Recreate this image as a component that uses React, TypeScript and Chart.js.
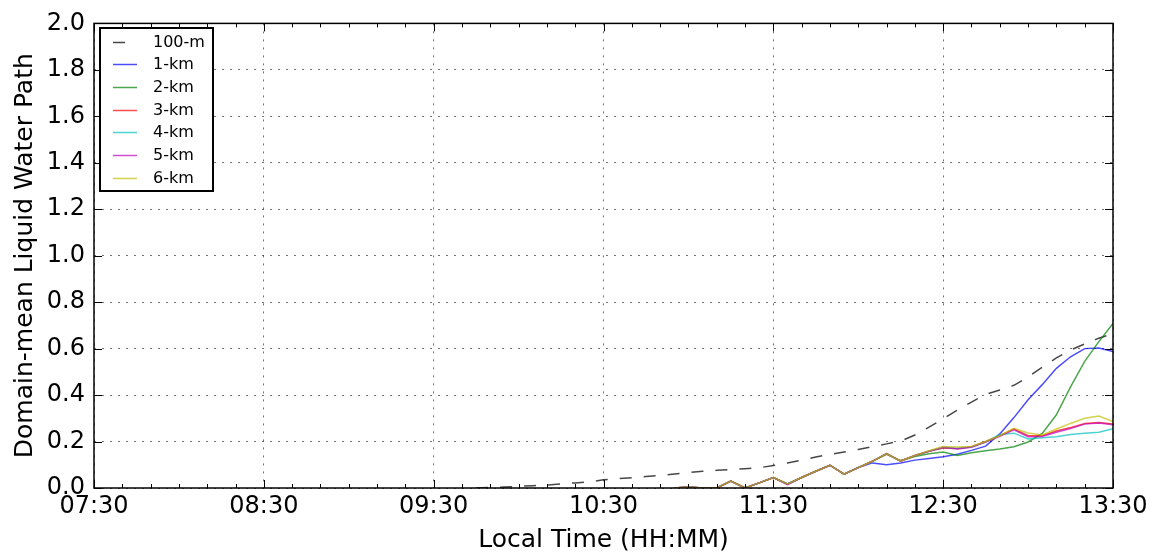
import React, { useEffect, useRef } from 'react';
import { Chart, registerables } from 'chart.js';
Chart.register(...registerables);

// Time axis (HH:MM) labels
const xTickLabels = ['07:30', '08:30', '09:30', '10:30', '11:30', '12:30', '13:30'];

// 5-minute sample times
const times = [
  '09:45', '09:50', '09:55', '10:00', '10:05', '10:10', '10:15', '10:20', '10:25', '10:30',
  '10:35', '10:40', '10:45', '10:50', '10:55', '11:00', '11:05', '11:10', '11:15', '11:20',
  '11:25', '11:30', '11:35', '11:40', '11:45', '11:50', '11:55', '12:00', '12:05', '12:10',
  '12:15', '12:20', '12:25', '12:30', '12:35', '12:40', '12:45', '12:50', '12:55', '13:00',
  '13:05', '13:10', '13:15', '13:20', '13:25', '13:30',
];

const lwp100m = [
  0, 0.002, 0.004, 0.007, 0.01, 0.013, 0.018, 0.022, 0.026, 0.035,
  0.04, 0.044, 0.049, 0.054, 0.06, 0.066, 0.072, 0.076, 0.079, 0.083,
  0.087, 0.097, 0.108, 0.12, 0.133, 0.145, 0.155, 0.166, 0.178, 0.19,
  0.202, 0.228, 0.262, 0.298, 0.335, 0.37, 0.403, 0.422, 0.442, 0.478,
  0.52, 0.56, 0.594, 0.62, 0.645, 0.665,
];

const N = null;
const lwp1km = [
  N, N, N, N, N, N, N, N, N, N,
  N, N, N, N, 0, 0.004, 0, 0, 0.03, 0,
  0.022, 0.045, 0.018, 0.045, 0.072, 0.098, 0.06, 0.088, 0.108, 0.1,
  0.108, 0.12, 0.127, 0.135, 0.145, 0.162, 0.18, 0.233, 0.303, 0.38,
  0.445, 0.515, 0.565, 0.6, 0.603, 0.588,
];
const lwp2km = [
  N, N, N, N, N, N, N, N, N, N,
  N, N, N, N, 0, 0.004, 0, 0, 0.03, 0,
  0.022, 0.045, 0.018, 0.045, 0.072, 0.098, 0.06, 0.088, 0.115, 0.145,
  0.118, 0.136, 0.147, 0.155, 0.14, 0.152, 0.16, 0.168, 0.178, 0.198,
  0.235, 0.315, 0.435, 0.545, 0.63, 0.708,
];
const lwp3km = [
  N, N, N, N, N, N, N, N, N, N,
  N, N, N, N, 0, 0.004, 0, 0, 0.03, 0,
  0.022, 0.045, 0.016, 0.045, 0.072, 0.098, 0.06, 0.088, 0.115, 0.148,
  0.116, 0.14, 0.158, 0.172, 0.17, 0.178, 0.2, 0.225, 0.255, 0.225,
  0.225, 0.245, 0.26, 0.278, 0.282, 0.275,
];
const lwp4km = [
  N, N, N, N, N, N, N, N, N, N,
  N, N, N, N, 0, 0.004, 0, 0, 0.03, 0,
  0.022, 0.045, 0.016, 0.045, 0.072, 0.098, 0.06, 0.088, 0.115, 0.148,
  0.116, 0.14, 0.158, 0.175, 0.17, 0.176, 0.198, 0.23, 0.236, 0.211,
  0.216, 0.221, 0.23, 0.236, 0.24, 0.255,
];
const lwp5km = [
  N, N, N, N, N, N, N, N, N, N,
  N, N, N, N, 0, 0.004, 0, 0, 0.03, 0,
  0.022, 0.045, 0.014, 0.045, 0.072, 0.098, 0.06, 0.088, 0.115, 0.148,
  0.116, 0.14, 0.158, 0.175, 0.168, 0.175, 0.198, 0.222, 0.25, 0.221,
  0.222, 0.24, 0.256, 0.275, 0.28, 0.272,
];
const lwp6km = [
  N, N, N, N, N, N, N, N, N, N,
  N, N, N, N, 0, 0.004, 0, 0, 0.03, 0,
  0.022, 0.045, 0.018, 0.045, 0.072, 0.098, 0.06, 0.088, 0.115, 0.148,
  0.116, 0.14, 0.16, 0.179, 0.176, 0.179, 0.2, 0.225, 0.257, 0.237,
  0.228, 0.254, 0.278, 0.3, 0.31, 0.286,
];

const seriesLabels = ['100-m', '1-km', '2-km', '3-km', '4-km', '5-km', '6-km'];
const seriesValues = [lwp100m, lwp1km, lwp2km, lwp3km, lwp4km, lwp5km, lwp6km];
const seriesColors = [
  'rgba(0,0,0,0.72)',
  'rgba(0,0,255,0.7)',
  'rgba(0,128,0,0.7)',
  'rgba(255,0,0,0.7)',
  'rgba(0,191,191,0.7)',
  'rgba(191,0,191,0.7)',
  'rgba(191,191,0,0.7)',
];

const toMin = (s: string) => {
  const [h, m] = s.split(':').map(Number);
  return h * 60 + m;
};
const fmt = (v: number) => {
  const h = Math.floor(v / 60);
  const m = Math.round(v - h * 60);
  return String(h).padStart(2, '0') + ':' + String(m).padStart(2, '0');
};

const FONT = "'DejaVu Sans', sans-serif";
const X_MIN = toMin(xTickLabels[0]);
const X_MAX = toMin(xTickLabels[xTickLabels.length - 1]);
const MINOR_STEP = 10;

const framePlugin = {
  id: 'frame',
  afterDatasetsDraw(chart: any) {
    const { ctx, chartArea, scales } = chart;
    const { left, right, top, bottom } = chartArea;
    const x = scales.x;
    const y = scales.y;
    ctx.save();
    ctx.strokeStyle = '#000';
    ctx.lineWidth = 1;
    ctx.setLineDash([]);
    ctx.beginPath();
    for (let m = X_MIN; m <= X_MAX; m += MINOR_STEP) {
      const px = Math.round(x.getPixelForValue(m)) + 0.5;
      const len = (m - X_MIN) % 60 === 0 ? 8 : 4;
      ctx.moveTo(px, bottom);
      ctx.lineTo(px, bottom - len);
      ctx.moveTo(px, top);
      ctx.lineTo(px, top + len);
    }
    y.ticks.forEach((t: any) => {
      const py = Math.round(y.getPixelForValue(t.value)) + 0.5;
      ctx.moveTo(left, py);
      ctx.lineTo(left + 8, py);
      ctx.moveTo(right, py);
      ctx.lineTo(right - 8, py);
    });
    ctx.stroke();
    ctx.lineWidth = 1.5;
    ctx.strokeRect(left, top, right - left, bottom - top);
    ctx.restore();
  },
  afterDraw(chart: any) {
    const { ctx } = chart;
    const bx = 100, by = 28, bw = 113, bh = 163;
    ctx.save();
    ctx.fillStyle = '#fff';
    ctx.fillRect(bx, by, bw, bh);
    ctx.strokeStyle = '#000';
    ctx.lineWidth = 2;
    ctx.setLineDash([]);
    ctx.strokeRect(bx, by, bw, bh);
    ctx.font = `16px ${FONT}`;
    ctx.textBaseline = 'middle';
    ctx.textAlign = 'left';
    chart.data.datasets.forEach((ds: any, i: number) => {
      const ry = 41.5 + i * 22.7;
      ctx.strokeStyle = ds.borderColor;
      ctx.lineWidth = ds.borderWidth;
      ctx.setLineDash(ds.borderDash || []);
      ctx.beginPath();
      ctx.moveTo(113, Math.round(ry) + 0.5);
      ctx.lineTo(137, Math.round(ry) + 0.5);
      ctx.stroke();
      ctx.setLineDash([]);
      ctx.fillStyle = '#000';
      ctx.fillText(ds.label, 153, ry + 1);
    });
    ctx.restore();
  },
};

export default function App() {
  const ref = useRef<HTMLCanvasElement | null>(null);
  useEffect(() => {
    if (!ref.current) return;
    const xs = times.map(toMin);
    const datasets = seriesLabels.map((label, i) => ({
      label,
      data: seriesValues[i].map((v, j) => ({ x: xs[j], y: v })),
      borderColor: seriesColors[i],
      backgroundColor: seriesColors[i],
      borderWidth: 1.5,
      borderDash: i === 0 ? [12, 12] : undefined,
      pointRadius: 0,
      tension: 0,
      fill: false,
      spanGaps: false,
      order: seriesLabels.length - i,
    }));
    const chart = new Chart(ref.current, {
      type: 'line',
      data: { datasets },
      plugins: [framePlugin],
      options: {
        animation: false,
        responsive: false,
        maintainAspectRatio: false,
        devicePixelRatio: 1,
        layout: { padding: { top: 18, right: 50, left: 0, bottom: 0 } },
        plugins: { legend: { display: false }, tooltip: { enabled: false } },
        scales: {
          x: {
            type: 'linear',
            min: X_MIN,
            max: X_MAX,
            afterBuildTicks: (scale: any) => {
              scale.ticks = xTickLabels.map((l) => ({ value: toMin(l) }));
            },
            afterFit: (scale: any) => {
              scale.height = 69;
            },
            ticks: {
              callback: (v: any) => fmt(Number(v)),
              font: { family: FONT, size: 24 },
              color: '#000',
              padding: 4,
              maxRotation: 0,
              autoSkip: false,
            },
            grid: {
              color: 'rgba(0,0,0,0.55)',
              lineWidth: 1,
              drawTicks: false,
            },
            border: { display: false, dash: [2, 6] },
            title: {
              display: true,
              text: 'Local Time (HH:MM)',
              font: { family: FONT, size: 25 },
              color: '#000',
              padding: { top: 0, bottom: 2 },
            },
          },
          y: {
            type: 'linear',
            min: 0,
            max: 2,
            afterFit: (scale: any) => {
              scale.width = 94;
            },
            ticks: {
              stepSize: 0.2,
              callback: (v: any) => Number(v).toFixed(1),
              font: { family: FONT, size: 24 },
              color: '#000',
              padding: 9,
            },
            grid: {
              color: 'rgba(0,0,0,0.55)',
              lineWidth: 1,
              drawTicks: false,
            },
            border: { display: false, dash: [2, 6] },
            title: {
              display: true,
              text: 'Domain-mean Liquid Water Path',
              font: { family: FONT, size: 25 },
              color: '#000',
              padding: { top: 10, bottom: 0 },
            },
          },
        },
      },
    } as any);
    return () => chart.destroy();
  }, []);
  return (
    <div style={{ position: 'absolute', left: 0, top: 0, width: 1163, height: 557, background: '#fff' }}>
      <canvas ref={ref} width={1163} height={557} style={{ display: 'block', width: 1163, height: 557 }} />
    </div>
  );
}
